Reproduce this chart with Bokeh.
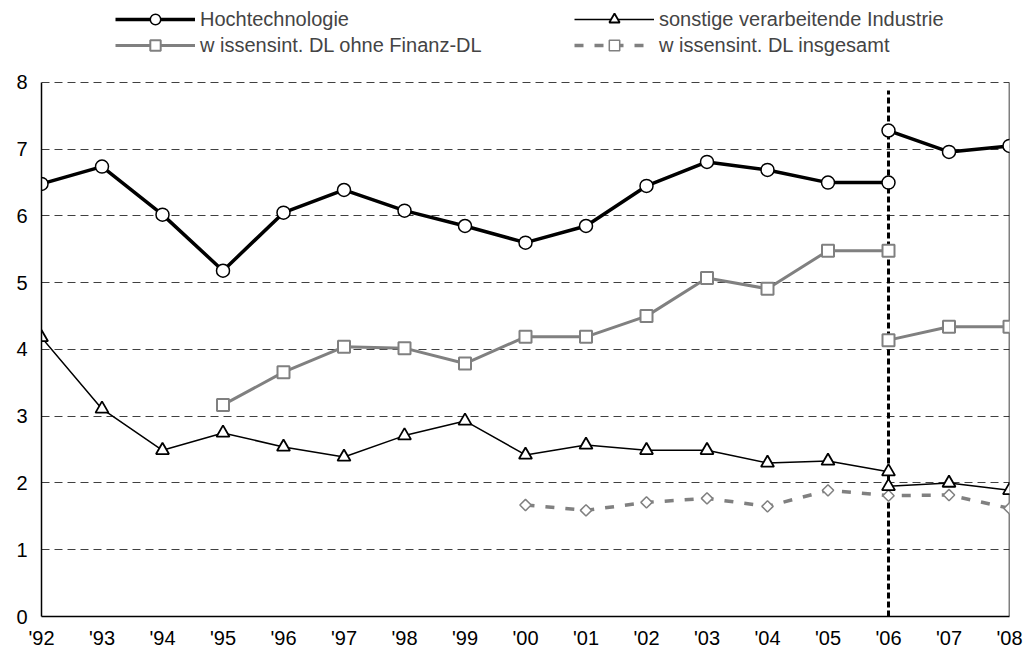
import math
from bokeh.plotting import figure
from bokeh.models import Legend, LegendItem, FixedTicker, Range1d
from bokeh.embed import file_html
from bokeh.resources import INLINE

# ---- data ----
tick_years = list(range(1992, 2009))
tick_labels = ["'92", "'93", "'94", "'95", "'96", "'97", "'98", "'99", "'00",
               "'01", "'02", "'03", "'04", "'05", "'06", "'07", "'08"]
y_ticks = [0, 1, 2, 3, 4, 5, 6, 7, 8]

hoch_years_a = list(range(1992, 2007))
hoch_a = [6.48, 6.74, 6.02, 5.18, 6.05, 6.39, 6.08, 5.85, 5.60, 5.85, 6.45, 6.81, 6.69, 6.50, 6.50]
hoch_years_b = [2006, 2007, 2008]
hoch_b = [7.28, 6.96, 7.05]

sonst_years_a = list(range(1992, 2007))
sonst_a = [4.18, 3.11, 2.49, 2.75, 2.54, 2.39, 2.71, 2.93, 2.42, 2.57, 2.49, 2.49, 2.30, 2.33, 2.17]
sonst_years_b = [2006, 2007, 2008]
sonst_b = [1.95, 2.00, 1.89]

wiss_years_a = list(range(1995, 2007))
wiss_a = [3.17, 3.66, 4.04, 4.02, 3.79, 4.19, 4.19, 4.50, 5.07, 4.91, 5.48, 5.48]
wiss_years_b = [2006, 2007, 2008]
wiss_b = [4.14, 4.34, 4.34]

ges_years = list(range(2000, 2009))
ges = [1.67, 1.59, 1.71, 1.77, 1.65, 1.89, 1.81, 1.82, 1.62]

break_year = [2006]
break_top = [7.88]

labels = ["Hochtechnologie", "sonstige verarbeitende Industrie",
          "w issensint. DL ohne Finanz-DL", "w issensint. DL insgesamt"]

FONT = "Liberation Sans"
GRAY = "#808080"

# frame spans full canvas height above the axis; space above 8 holds the legend
p = figure(width=1031, height=656, output_backend="svg", toolbar_location=None,
           x_range=Range1d(tick_years[0], tick_years[-1]), y_range=Range1d(0, 9.228),
           min_border_left=41, min_border_right=22, min_border_top=0, min_border_bottom=40)
p.outline_line_color = None
p.background_fill_color = "white"

# grid
p.xgrid.grid_line_color = None
p.ygrid.ticker = FixedTicker(ticks=y_ticks)
p.ygrid.grid_line_color = "#404040"
p.ygrid.grid_line_dash = "8 5"
p.ygrid.grid_line_width = 1

# axes
p.yaxis.ticker = FixedTicker(ticks=y_ticks)
p.yaxis.bounds = (y_ticks[0], y_ticks[-1])
p.xaxis.ticker = FixedTicker(ticks=tick_years)
p.xaxis.major_label_overrides = {y: l for y, l in zip(tick_years, tick_labels)}
for ax in (p.xaxis[0], p.yaxis[0]):
    ax.axis_line_color = "black"
    ax.axis_line_width = 1.5
    ax.major_tick_line_color = None
    ax.minor_tick_line_color = None
    ax.major_tick_out = 0
    ax.minor_tick_out = 0
    ax.major_label_text_font = FONT
    ax.major_label_text_font_size = "20px"
    ax.major_label_text_color = "black"
p.xaxis.major_label_standoff = 10
p.yaxis.major_label_standoff = 14

# right border of the plot area
p.segment(x0=[tick_years[-1]], y0=[y_ticks[0]], x1=[tick_years[-1]], y1=[y_ticks[-1]],
          line_color="black", line_width=1.5)

# break line
p.segment(x0=break_year, y0=[y_ticks[0]], x1=break_year, y1=break_top,
          line_color="black", line_width=3, line_dash="6 3")

# series
ms = 12
h1 = p.line(hoch_years_a, hoch_a, line_color="black", line_width=3.5)
h1m = p.scatter(hoch_years_a, hoch_a, marker="circle", size=ms + 1, fill_color="white",
                line_color="black", line_width=1.5)
h2 = p.line(hoch_years_b, hoch_b, line_color="black", line_width=3.5)
h2m = p.scatter(hoch_years_b, hoch_b, marker="circle", size=ms + 1, fill_color="white",
                line_color="black", line_width=1.5)

w1 = p.line(wiss_years_a, wiss_a, line_color=GRAY, line_width=3)
w1m = p.scatter(wiss_years_a, wiss_a, marker="square", size=ms, fill_color="white",
                line_color=GRAY, line_width=2)
w2 = p.line(wiss_years_b, wiss_b, line_color=GRAY, line_width=3)
w2m = p.scatter(wiss_years_b, wiss_b, marker="square", size=ms, fill_color="white",
                line_color=GRAY, line_width=2)

g1 = p.line(ges_years, ges, line_color=GRAY, line_width=3.5, line_dash="9 11")
g1m = p.scatter(ges_years, ges, marker="square", angle=math.pi / 4, size=8,
                fill_color="white", line_color=GRAY, line_width=1.5)

s1 = p.line(sonst_years_a, sonst_a, line_color="black", line_width=1.5)
s1m = p.scatter(sonst_years_a, sonst_a, marker="triangle", size=13, fill_color="white",
                line_color="black", line_width=1.8)
s2 = p.line(sonst_years_b, sonst_b, line_color="black", line_width=1.5)
s2m = p.scatter(sonst_years_b, sonst_b, marker="triangle", size=13, fill_color="white",
                line_color="black", line_width=1.8)

items = [
    LegendItem(label=labels[0], renderers=[h1, h1m]),
    LegendItem(label=labels[1], renderers=[s1, s1m]),
    LegendItem(label=labels[2], renderers=[w1, w1m]),
    LegendItem(label=labels[3], renderers=[g1, g1m]),
]
legend = Legend(items=items, orientation="horizontal", ncols=2,
                location=(74, 558), glyph_width=80, glyph_height=26, label_height=26,
                label_width=374, label_standoff=5, spacing=0, padding=0, margin=0,
                label_text_font=FONT, label_text_font_size="20px",
                border_line_color=None, background_fill_alpha=0)
p.add_layout(legend, "center")

open("out.html", "w").write(file_html(p, INLINE))
